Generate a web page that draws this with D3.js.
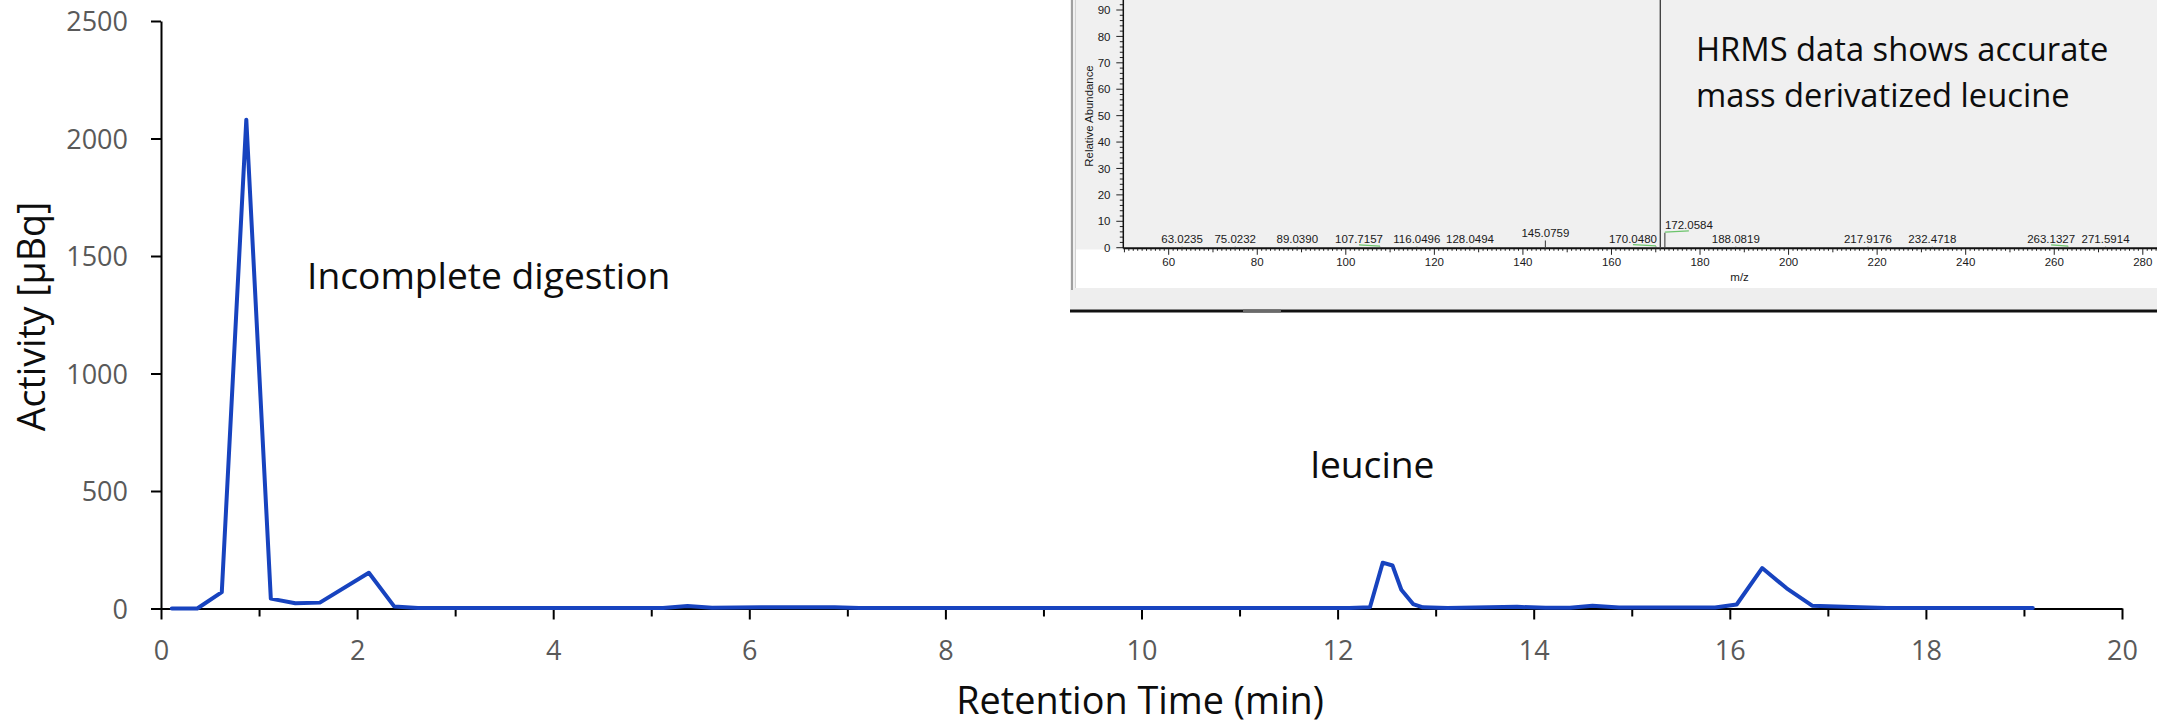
<!DOCTYPE html>
<html><head><meta charset="utf-8">
<script src="https://cdn.jsdelivr.net/npm/d3@7"></script>
<style>body{margin:0;background:#fff} svg{display:block}</style>
</head><body>
<svg id="c" width="2157" height="725"></svg>
<script>
// ---------- DATA ----------
const retentionTime = [0.11,0.37,0.62,0.87,1.12,1.37,1.62,2.12,2.38,2.62,5.12,5.37,5.62,6.12,6.87,7.12,12.12,12.33,12.46,12.56,12.65,12.77,12.87,13.12,13.83,14.12,14.37,14.6,14.87,15.85,16.07,16.33,16.58,16.84,17.33,17.6,19.09];
const activity      = [0,0,70,2080,42,22,25,152,8,2,2,11,3,5,5,2,2,5,195,183,80,19,5,2,7,3,3,12,4,4,17,172,86,12,5,2,2];
const xTicks = [0,2,4,6,8,10,12,14,16,18,20];
const xMinorTicks = [1,3,5,7,9,11,13,15,17,19];
const yTicks = [0,500,1000,1500,2000,2500];
const xTitle = "Retention Time (min)";
const yTitle = "Activity [µBq]";
const annotations = ["Incomplete digestion","leucine"];
const insetNote = ["HRMS data shows accurate","mass derivatized leucine"];

// inset mass spectrum
const msMz        = [63.0235,75.0232,89.0390,107.7157,116.0496,128.0494,145.0759,170.0480,171.03,172.0584,188.0819,217.9176,232.4718,263.1327,271.5914];
const msAbundance = [0.4,0.4,0.4,0.4,0.4,0.4,2.7,0.5,100,5.7,0.4,0.4,0.4,0.4,0.4];
const msLabels    = ["63.0235","75.0232","89.0390","107.7157","116.0496","128.0494","145.0759","170.0480","","172.0584","188.0819","217.9176","232.4718","263.1327","271.5914"];
const msXTicks = [60,80,100,120,140,160,180,200,220,240,260,280];
const msYTicks = [0,10,20,30,40,50,60,70,80,90];
const msXTitle = "m/z";
const msYTitle = "Relative Abundance";

// ---------- LAYOUT ----------
const svg = d3.select('#c');
svg.append('rect').attr('width',2157).attr('height',725).attr('fill','#fff');
const FONT = "'Open Sans', Lato, sans-serif";
const MSFONT = "'Liberation Sans', Arial, sans-serif";

const x = d3.scaleLinear().domain([0,20]).range([161,2122]);
const y = d3.scaleLinear().domain([0,2500]).range([608.5,21]);

// ---- inset panel ----
const ins = svg.append('g');
ins.append('rect').attr('x',1070).attr('y',0).attr('width',1087).attr('height',289).attr('fill','#f0f0f0');
ins.append('rect').attr('x',1076).attr('y',249.5).attr('width',1081).attr('height',38.5).attr('fill','#fff');
ins.append('rect').attr('x',1070).attr('y',288).attr('width',1087).attr('height',21.5).attr('fill','#eeeeee');
ins.append('rect').attr('x',1070).attr('y',309.5).attr('width',1087).attr('height',3).attr('fill','#111');
ins.append('rect').attr('x',1243).attr('y',309.5).attr('width',38).attr('height',3).attr('fill','#6a6a6a');
ins.append('rect').attr('x',1071).attr('y',0).attr('width',2).attr('height',290).attr('fill','#a0a0a0');
ins.append('rect').attr('x',1075).attr('y',0).attr('width',1).attr('height',288).attr('fill','#d2d2d2');

const msX = d3.scaleLinear().domain([60,280]).range([1168.7,2142.8]);
const msY = d3.scaleLinear().domain([0,90]).range([247.7,10]);
const msAxisY = 248.3, msAxisX = 1123.3;

// x ticks of inset
const mzMin = Math.ceil(msX.invert(msAxisX)), mzMax = Math.floor(msX.invert(2157));
for (let m = mzMin; m <= mzMax; m++) {
  const len = (m % 20 === 0) ? 6.5 : (m % 10 === 0 ? 4 : 2.5);
  ins.append('line').attr('x1',msX(m)).attr('x2',msX(m)).attr('y1',msAxisY).attr('y2',msAxisY+len)
    .attr('stroke','#222').attr('stroke-width',1);
}
ins.selectAll('text.msx').data(msXTicks).join('text').attr('class','msx')
  .attr('x',d=>msX(d)).attr('y',265.7).attr('text-anchor','middle')
  .attr('font-family',MSFONT).attr('font-size',11.5).attr('fill','#1a1a1a').text(d=>d);
// y ticks of inset
for (let v = 0; v <= 94; v += 2) {
  const len = (v % 10 === 0) ? 7 : 3.5;
  ins.append('line').attr('x1',msAxisX-len).attr('x2',msAxisX).attr('y1',msY(v)).attr('y2',msY(v))
    .attr('stroke','#222').attr('stroke-width',1);
}
ins.selectAll('text.msy').data(msYTicks).join('text').attr('class','msy')
  .attr('x',1110.5).attr('y',d=>msY(d)).attr('dy','0.36em').attr('text-anchor','end')
  .attr('font-family',MSFONT).attr('font-size',11.5).attr('fill','#1a1a1a').text(d=>d);
// inset axes lines
ins.append('line').attr('x1',msAxisX).attr('x2',2157).attr('y1',msAxisY).attr('y2',msAxisY).attr('stroke','#111').attr('stroke-width',2);
ins.append('line').attr('x1',msAxisX).attr('x2',msAxisX).attr('y1',0).attr('y2',msAxisY).attr('stroke','#111').attr('stroke-width',1.5);
// inset titles
ins.append('text').attr('transform','translate(1093,116) rotate(-90)').attr('text-anchor','middle')
  .attr('font-family',MSFONT).attr('font-size',11.4).attr('fill','#1a1a1a').text(msYTitle);
ins.append('text').attr('x',1739.6).attr('y',281).attr('text-anchor','middle')
  .attr('font-family',MSFONT).attr('font-size',11.5).attr('fill','#1a1a1a').text(msXTitle);

// peaks
const labelShift = {"107.7157":-21,"170.0480":-23,"172.0584":24,"263.1327":-17};
msMz.forEach((m,i)=>{
  const px = msX(m), top = Math.max(0, msY(msAbundance[i]));
  ins.append('line').attr('x1',px).attr('x2',px).attr('y1',msAxisY).attr('y2',top)
    .attr('stroke','#444').attr('stroke-width',msAbundance[i] > 50 ? 1.4 : 1.1);
  const lab = msLabels[i];
  if (!lab) return;
  const sh = labelShift[lab] || 0;
  const base = msY(msAbundance[i]) - 3.5;
  if (sh) {
    ins.append('line').attr('x1',px).attr('x2',px+sh).attr('y1',top-0.5).attr('y2',base+1.8)
      .attr('stroke','#6cc46c').attr('stroke-width',1.2);
  }
  ins.append('text').attr('x',px+sh).attr('y',base).attr('text-anchor','middle')
    .attr('font-family',MSFONT).attr('font-size',11.5).attr('fill','#1a1a1a').text(lab);
});

// inset note
ins.append('text').attr('font-family',FONT).attr('font-size',32.7).attr('fill','#0d0d0d')
  .selectAll('tspan').data(insetNote).join('tspan')
  .attr('x',1696).attr('y',(d,i)=>61+i*46).text(d=>d);

// ---- main axes ----
const gxMinor = svg.append('g').attr('transform',`translate(0,${y(0)})`)
  .call(d3.axisBottom(x).tickValues(xMinorTicks).tickSize(8).tickSizeOuter(0).tickFormat(''));
gxMinor.select('.domain').remove();
gxMinor.selectAll('line').attr('stroke','#000').attr('stroke-width',2);

const gx = svg.append('g').attr('transform',`translate(0,${y(0)})`)
  .call(d3.axisBottom(x).tickValues(xTicks).tickSize(11).tickSizeOuter(0).tickFormat(d3.format('d')));
gx.select('.domain').attr('stroke','#000').attr('stroke-width',2);
gx.selectAll('line').attr('stroke','#000').attr('stroke-width',2);
gx.selectAll('text').attr('y',51.5).attr('dy',null)
  .attr('font-family',FONT).attr('font-size',27).attr('fill','#595959');

const gy = svg.append('g').attr('transform',`translate(${x(0)},0)`)
  .call(d3.axisLeft(y).tickValues(yTicks).tickSize(10).tickSizeOuter(0).tickFormat(d3.format('d')));
gy.select('.domain').attr('stroke','#000').attr('stroke-width',2);
gy.selectAll('line').attr('stroke','#000').attr('stroke-width',2);
gy.selectAll('text').attr('x',-33).attr('dy','0.36em')
  .attr('font-family',FONT).attr('font-size',27).attr('fill','#595959');
gx.attr('font-family',null).attr('font-size',null);
gy.attr('font-family',null).attr('font-size',null);

// axis titles
svg.append('text').attr('x',1140).attr('y',713.5).attr('text-anchor','middle')
  .attr('font-family',FONT).attr('font-size',37.8).attr('fill','#0d0d0d').text(xTitle);
svg.append('text').attr('transform','translate(45,316.5) rotate(-90)').attr('text-anchor','middle')
  .attr('font-family',FONT).attr('font-size',37.5).attr('fill','#0d0d0d').text(yTitle);

// ---- data line ----
const pts = retentionTime.map((t,i)=>[t,activity[i]]);
svg.append('path').datum(pts)
  .attr('d', d3.line().x(d=>x(d[0])).y(d=>y(d[1])))
  .attr('fill','none').attr('stroke','#1743BF').attr('stroke-width',4)
  .attr('stroke-linejoin','round').attr('stroke-linecap','round');

// annotations
svg.append('text').attr('x',307).attr('y',289.3).attr('font-family',FONT).attr('font-size',37.2)
  .attr('fill','#0d0d0d').text(annotations[0]);
svg.append('text').attr('x',1310.5).attr('y',477.7).attr('font-family',FONT).attr('font-size',37.2)
  .attr('fill','#0d0d0d').text(annotations[1]);
</script>
</body></html>
